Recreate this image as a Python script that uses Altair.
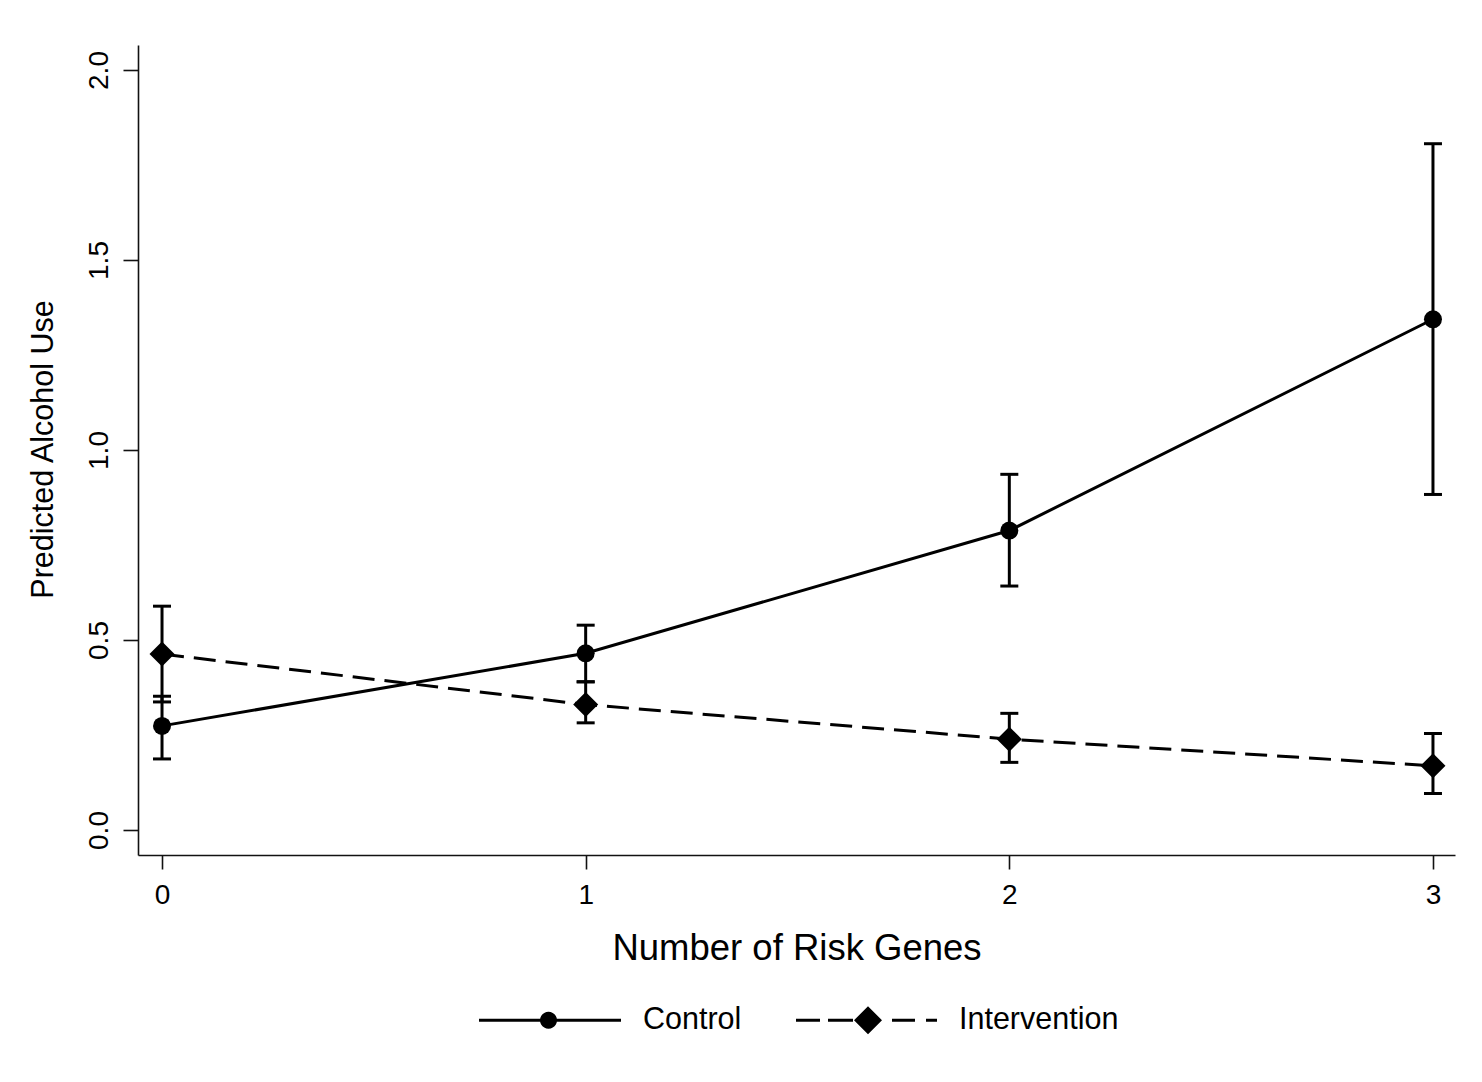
import altair as alt
import pandas as pd

# ---- data ----
genes = [0, 1, 2, 3]
groups = ["Control", "Intervention"]
control_mean = [0.274, 0.465, 0.788, 1.344]
control_lo = [0.187, 0.390, 0.642, 0.883]
control_hi = [0.352, 0.539, 0.936, 1.806]
interv_mean = [0.463, 0.330, 0.239, 0.169]
interv_lo = [0.337, 0.282, 0.178, 0.096]
interv_hi = [0.589, 0.390, 0.307, 0.254]
y_ticks = [0.0, 0.5, 1.0, 1.5, 2.0]

rows = []
for g, m, lo, hi in [("Control", control_mean, control_lo, control_hi),
                     ("Intervention", interv_mean, interv_lo, interv_hi)]:
    for x, a, b, c in zip(genes, m, lo, hi):
        rows.append({"group": g, "genes": x, "mean": a, "lo": b, "hi": c})
df = pd.DataFrame(rows)

FONT = "Liberation Sans"
INK = "#000000"

# ---- legend symbols (custom paths: line + marker), in px scaled to unit box ----
HALF = 71.0


def u(v):
    return f"{v / HALF:.4f}"


def rect(x0, x1, h=1.5):
    return f"M{u(x0)} {u(-h)} L{u(x1)} {u(-h)} L{u(x1)} {u(h)} L{u(x0)} {u(h)} Z "


def circle(cx, r, n=24):
    import math
    pts = []
    for i in range(n):
        a = 2 * math.pi * i / n
        pts.append((cx + r * math.cos(a), r * math.sin(a)))
    s = f"M{u(pts[0][0])} {u(pts[0][1])} "
    for p in pts[1:]:
        s += f"L{u(p[0])} {u(p[1])} "
    return s + "Z "


def diamond(cx, r):
    return f"M{u(cx)} {u(-r)} L{u(cx + r)} 0 L{u(cx)} {u(r)} L{u(cx - r)} 0 Z "


ctrl_path = (rect(-71, 71) + circle(-1.5, 8.5)).strip()
int_path = (rect(-70, -46) + rect(-38, -13) + diamond(2, 14)
            + rect(26, 49) + rect(60, 71)).strip()

xscale = alt.Scale(domain=[-0.0567, 3.052], nice=False, zero=False)
yscale = alt.Scale(domain=[-0.0658, 2.0658], nice=False, zero=False)

xaxis = alt.Axis(values=genes, format="d", title="Number of Risk Genes", grid=False,
                 labelFontSize=28, titleFontSize=36.5, labelPadding=12, tickSize=14,
                 titleBaseline="alphabetic", titleY=104)
yaxis = alt.Axis(values=y_ticks, format=".1f", title="Predicted Alcohol Use", grid=False,
                 labelFontSize=28, titleFontSize=30.5, labelAngle=270, labelAlign="center",
                 labelBaseline="alphabetic", labelPadding=16, tickSize=15,
                 titleAngle=270, titleAlign="center", titleBaseline="alphabetic",
                 titleX=-86, titleY=404)


def X():
    return alt.X("genes:Q", scale=xscale, axis=xaxis)


def Y(field):
    return alt.Y(f"{field}:Q", scale=yscale, axis=yaxis)


base = alt.Chart(df)
ctrl = base.transform_filter(alt.datum.group == "Control")
intv = base.transform_filter(alt.datum.group == "Intervention")

line_c = ctrl.mark_line(color=INK, strokeWidth=3).encode(x=X(), y=Y("mean"))
line_i = intv.mark_line(color=INK, strokeWidth=3, strokeDash=[22, 10]).encode(x=X(), y=Y("mean"))

bars = base.mark_rule(color=INK, strokeWidth=3).encode(
    x=X(), y=Y("lo"), y2="hi:Q",
)

caps = base.transform_fold(["lo", "hi"], as_=["which", "bound"]).mark_tick(
    color=INK, orient="horizontal", size=18, thickness=3, opacity=1
).encode(x=X(), y=Y("bound"))

circles = ctrl.mark_point(
    shape="circle", size=324, filled=True, color=INK, opacity=1, strokeWidth=0
).encode(x=X(), y=Y("mean"))

diamonds = intv.mark_point(
    shape="diamond", size=625, filled=True, color=INK, opacity=1, strokeWidth=0
).encode(x=X(), y=Y("mean"))

legend_layer = base.mark_point(filled=True, color=INK, fillOpacity=0, strokeOpacity=0,
                               strokeWidth=0, size=1).encode(
    x=X(), y=Y("mean"),
    shape=alt.Shape("group:N", scale=alt.Scale(domain=groups, range=[ctrl_path, int_path]),
                    legend=alt.Legend(title=None, orient="none", legendX=341, legendY=904,
                                      direction="horizontal", symbolSize=20164,
                                      symbolFillColor=INK, symbolStrokeColor=INK,
                                      symbolStrokeWidth=0, symbolOpacity=1,
                                      labelFontSize=30.5, labelFont=FONT, labelColor=INK,
                                      labelOffset=22, columnPadding=53)),
)

chart = alt.layer(line_c, line_i, bars, caps, circles, diamonds, legend_layer).properties(
    width=1317, height=810,
    autosize=alt.AutoSizeParams(type="none"),
    padding={"left": 130, "top": 37, "right": 14, "bottom": 218},
    background="white",
).configure_view(stroke=None).configure_axis(
    labelFont=FONT, titleFont=FONT, labelColor=INK, titleColor=INK,
    titleFontWeight="normal", domainColor="#111111", domainWidth=1.6,
    tickColor="#111111", tickWidth=1.6,
)

chart.save("out.html", embed_options={"renderer": "svg", "actions": False})
